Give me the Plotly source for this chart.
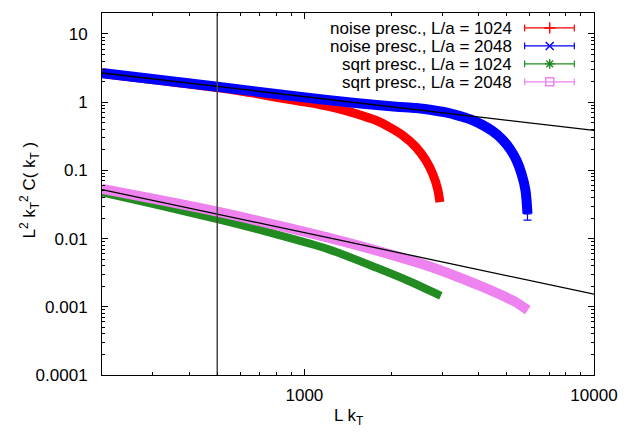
import plotly.graph_objects as go

# ---------------- data ----------------
red_x = [200, 501, 640, 810, 947, 1109, 1297, 1518, 1776, 1972, 2191, 2432, 2630, 2773,
         2884, 2937]
red_y = [2.645, 1.635, 1.40, 1.171, 1.048, 0.938, 0.809, 0.670, 0.535, 0.427, 0.323, 0.2177,
         0.139, 0.0889, 0.0536, 0.0342]

blue_x = [200, 501, 1008, 1500, 2078, 2432, 2845, 3159, 3510, 3797, 4106, 4441, 4804, 5128,
          5406, 5621, 5801, 5893]
blue_y = [2.67, 1.68, 1.17, 0.975, 0.86, 0.820, 0.749, 0.693, 0.612, 0.547, 0.467, 0.382,
          0.289, 0.206, 0.139, 0.0889, 0.0507, 0.0231]
blue_end_err = 0.0045

green_x = [200, 315, 505, 778, 1199, 1776, 2302, 2960]
green_y = [0.0474, 0.0306, 0.0191, 0.0119, 0.00707, 0.00373, 0.00237, 0.00145]

pink_x = [200, 505, 1199, 2030, 2631, 3410, 3990, 4670, 5253, 5907]
pink_y = [0.0533, 0.02457, 0.01041, 0.00568, 0.00406, 0.00271, 0.00207, 0.001555,
          0.001228, 0.000892]

fit_x = [200, 10000]
fit_upper_y = [2.68, 0.385]
fit_lower_y = [0.0524, 0.00153]

vline_x = 500
y_span = [1e-4, 20]

names = ["noise presc., L/a = 1024", "noise presc., L/a = 2048",
         "sqrt presc., L/a = 1024", "sqrt presc., L/a = 2048"]
colors = ["#ff0000", "#0000ff", "#228b22", "#ee82ee"]
symbols = ["cross-thin-open", "x-thin-open", "asterisk-open", "square-open"]

x_tickvals = [1000, 10000]
x_ticktext = ["1000", "10000"]
y_tickvals = [1e-4, 1e-3, 1e-2, 1e-1, 1, 10]
y_ticktext = ["0.0001", "0.001", "0.01", "0.1", "1", "10"]

FONT = "Liberation Sans, Arial, Helvetica, sans-serif"
FS = 17

fig = go.Figure()

series = [(red_x, red_y, 9), (blue_x, blue_y, 10), (green_x, green_y, 8), (pink_x, pink_y, 10)]
for (xs, ys, w), c in zip(series, colors):
    fig.add_trace(go.Scatter(x=xs, y=ys, mode="lines",
                             line=dict(color=c, width=w, shape="spline", smoothing=0.8),
                             showlegend=False, hoverinfo="skip"))

# error bar at the end of the blue data
fig.add_trace(go.Scatter(x=[blue_x[-1]], y=[blue_y[-1]], mode="markers",
                         marker=dict(size=1, color=colors[1]),
                         error_y=dict(type="data", symmetric=False, array=[0],
                                      arrayminus=[blue_end_err], color=colors[1],
                                      thickness=1.2, width=4),
                         showlegend=False, hoverinfo="skip"))

# fits
for fy in (fit_upper_y, fit_lower_y):
    fig.add_trace(go.Scatter(x=fit_x, y=fy, mode="lines",
                             line=dict(color="black", width=1.3),
                             showlegend=False, hoverinfo="skip"))

# vertical line
fig.add_trace(go.Scatter(x=[vline_x, vline_x], y=y_span, mode="lines",
                         line=dict(color="#444444", width=1.5),
                         showlegend=False, hoverinfo="skip"))

# ---------------- manual gnuplot-style key ----------------
row_y = [0.9587, 0.9091, 0.8595, 0.8099]
key_text_x = 0.837
key_x0, key_xm, key_x1 = 0.859, 0.910, 0.960
cap = 0.0095
for i in range(4):
    fig.add_trace(go.Scatter(x=[key_x0, key_x1], y=[row_y[i], row_y[i]], mode="lines",
                             xaxis="x2", yaxis="y2",
                             line=dict(color=colors[i], width=1.2),
                             error_y=dict(type="constant", value=cap, color=colors[i],
                                          thickness=1.2, width=0),
                             showlegend=False, hoverinfo="skip"))
    fig.add_trace(go.Scatter(x=[key_xm], y=[row_y[i]], mode="markers",
                             xaxis="x2", yaxis="y2",
                             marker=dict(symbol=symbols[i], size=8, color=colors[i],
                                         line=dict(color=colors[i], width=1.4)),
                             showlegend=False, hoverinfo="skip"))
    fig.add_annotation(x=key_text_x, y=row_y[i], xref="paper", yref="paper",
                       text=names[i], showarrow=False, xanchor="right", yanchor="middle",
                       height=18, valign="middle",
                       font=dict(family=FONT, size=FS, color="black"))

# axis titles
fig.add_annotation(x=0.5, y=-0.116, xref="paper", yref="paper", text="L k<sub>T</sub>",
                   showarrow=False, xanchor="center", yanchor="middle",
                   font=dict(family=FONT, size=FS, color="black"))
fig.add_annotation(x=-0.148, y=0.51, xref="paper", yref="paper",
                   text="L<sup>2</sup> k<sub>T</sub><sup>2</sup> C( k<sub>T</sub> )",
                   textangle=-90, showarrow=False, xanchor="center", yanchor="middle",
                   font=dict(family=FONT, size=FS, color="black"))

axis_common = dict(showgrid=False, zeroline=False, showline=True, linecolor="black",
                   linewidth=1, mirror="allticks", ticks="inside", ticklen=6,
                   tickwidth=1, tickcolor="black",
                   tickfont=dict(family=FONT, size=FS, color="black"))

fig.update_layout(
    width=630, height=432,
    margin=dict(l=102, r=30, t=12, b=57),
    paper_bgcolor="white", plot_bgcolor="white",
    font=dict(family=FONT, size=FS, color="black"),
    xaxis=dict(type="log", range=[2.30103, 4.0], tickvals=x_tickvals, ticktext=x_ticktext,
               ticklabelstandoff=5,
               minor=dict(ticks="inside", ticklen=3, tickcolor="black", tickwidth=1,
                          tickvals=[300, 400, 500, 600, 700, 800, 900,
                                    2000, 3000, 4000, 5000, 6000, 7000, 8000, 9000],
                          showgrid=False),
               **axis_common),
    yaxis=dict(type="log", range=[-4.0, 1.3075], tickvals=y_tickvals, ticktext=y_ticktext,
               ticklabelstandoff=10,
               minor=dict(ticks="inside", ticklen=3, tickcolor="black", tickwidth=1,
                          tickvals=[m * 10 ** e for e in range(-4, 2) for m in range(2, 10)],
                          showgrid=False),
               **axis_common),
    xaxis2=dict(overlaying="x", range=[0, 1], visible=False, fixedrange=True),
    yaxis2=dict(overlaying="y", range=[0, 1], visible=False, fixedrange=True),
)

fig.write_html("out.html")
